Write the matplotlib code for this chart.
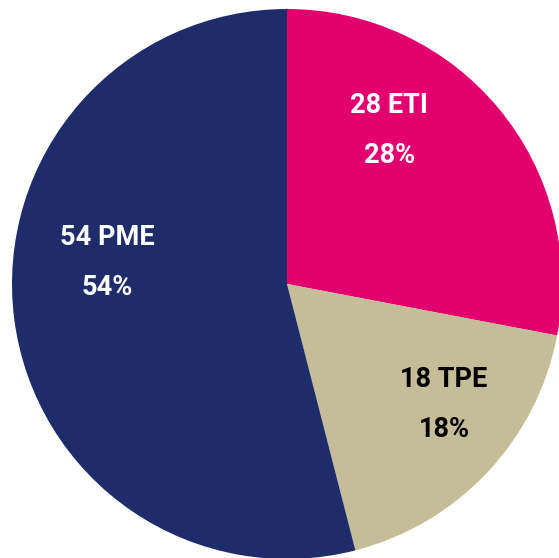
import numpy as np
import matplotlib
matplotlib.use("Agg")
import matplotlib.pyplot as plt

# Data
categories = ["ETI", "TPE", "PME"]
counts = [28, 18, 54]
percents = [28, 18, 54]

# Style
colors = ["#E2006F", "#C4BD97", "#1F2C6A"]
text_colors = ["white", "black", "white"]
# label placement (angle in degrees, radius fraction) for each slice
label_pos = [(56.8, 0.68), (-37.0, 0.715), (172.5, 0.66)]

W, H = 559, 558
fig = plt.figure(figsize=(W / 100, H / 100), dpi=100)
ax = fig.add_axes([0, 0, 1, 1])

cx, cy, R = 287.0, -284.0, 275.0
ax.pie(counts, colors=colors, startangle=90, counterclock=False,
       center=(cx, cy), radius=R, frame=True,
       wedgeprops=dict(linewidth=0))
ax.set_xlim(0, W)
ax.set_ylim(-H, 0)
ax.set_aspect("equal")
ax.axis("off")

fam = ["Roboto", "DejaVu Sans"]
for cat, n, p, tc, (ang, rf) in zip(categories, counts, percents, text_colors, label_pos):
    x = cx + rf * R * np.cos(np.radians(ang))
    y = cy + rf * R * np.sin(np.radians(ang))
    ax.text(x, y + 22.5, f"{n} {cat}", ha="center", va="center", color=tc,
            fontsize=19.5, fontweight="bold", family=fam)
    ax.text(x, y - 27.5, f"{p}%", ha="center", va="center", color=tc,
            fontsize=19.5, fontweight="bold", family=fam)

fig.savefig("out.png", dpi=100)
